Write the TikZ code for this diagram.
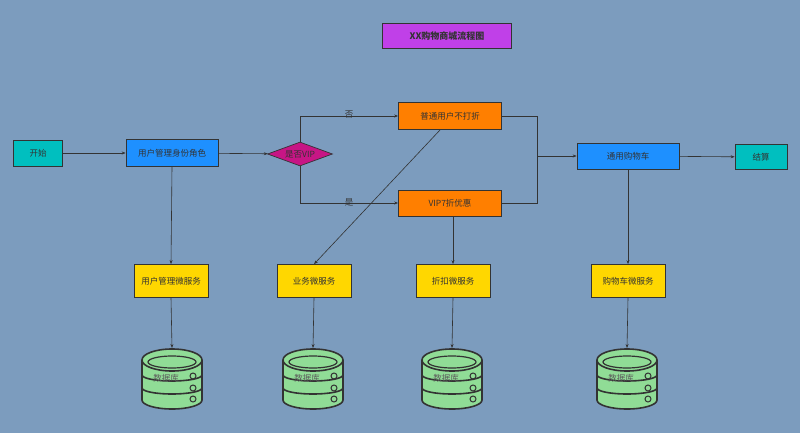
\documentclass[tikz,border=0pt]{standalone}
\usepackage{fontspec}
\setmainfont{Noto Sans CJK SC}
\usetikzlibrary{shapes.geometric,arrows.meta}
\definecolor{bg}{HTML}{7C9CBE}
\definecolor{ln}{HTML}{333333}
\definecolor{tealc}{HTML}{00BFBF}
\definecolor{bluec}{HTML}{1E90FF}
\definecolor{orc}{HTML}{FF7F00}
\definecolor{yel}{HTML}{FFD700}
\definecolor{mag}{HTML}{C71585}
\definecolor{pur}{HTML}{C040E8}
\definecolor{dbg}{HTML}{90DC96}
\begin{document}
\begin{tikzpicture}[x=1pt,y=-1pt,
  box/.style={draw=ln,line width=0.7pt,minimum height=26pt,inner sep=1pt,font=\fontsize{8.5}{9}\selectfont,text=ln},
  svc/.style={box,fill=yel,minimum width=74pt,minimum height=33pt},
  arr/.style={draw=ln,line width=0.6pt,-{Stealth[length=4pt,width=3pt]}},
  con/.style={draw=ln,line width=0.6pt},
  lab/.style={font=\fontsize{8.5}{9}\selectfont,text=ln}]
\fill[bg] (0,0) rectangle (800,433);
\useasboundingbox (0,0) rectangle (800,433);
\node[box,fill=pur,minimum width=129pt,minimum height=25pt,font=\bfseries\fontsize{9}{9}\selectfont] (title) at (447,36) {XX购物商城流程图};
\node[box,fill=tealc,minimum width=49pt] (start) at (38,153) {开始};
\node[box,fill=bluec,minimum width=92pt,minimum height=27pt] (role) at (172,153) {用户管理身份角色};
\node[diamond,draw=ln,line width=0.7pt,fill=mag,minimum width=65pt,minimum height=24pt,aspect=2.7,inner sep=0pt,font=\fontsize{8.5}{9}\selectfont,text=ln] (vip) at (300,154) {是否VIP};
\node[box,fill=orc,minimum width=103pt,minimum height=27pt] (norm) at (450,116) {普通用户不打折};
\node[box,fill=orc,minimum width=103pt] (vip7) at (450,203) {VIP7折优惠};
\node[box,fill=bluec,minimum width=102pt] (cart) at (628,156) {通用购物车};
\node[box,fill=tealc,minimum width=52pt,minimum height=25pt] (pay) at (761,157) {结算};
\node[svc] (s1) at (171,281) {用户管理微服务};
\node[svc] (s2) at (314,281) {业务微服务};
\node[svc] (s3) at (453,281) {折扣微服务};
\node[svc] (s4) at (628,281) {购物车微服务};
\coordinate (m) at (537,156);
\draw[arr] (start) -- (role);
\draw[arr] (role) -- (vip);
\draw[arr] (vip.north) |- node[lab,pos=0.75,yshift=1pt] {否} (norm.west);
\draw[arr] (vip.south) |- node[lab,pos=0.75,yshift=1pt] {是} (vip7.west);
\draw[con] (norm.east) -| (m);
\draw[con] (vip7.east) -| (m);
\draw[arr] (m) -- (cart.west);
\draw[arr] (cart) -- (pay);
\draw[arr] (role.south) -- (s1.north);
\draw[arr] (norm.south west) ++(42,0) coordinate (nd) (nd) -- (s2.north);
\draw[arr] (vip7.south) ++(3,0) coordinate (vd) (vd) -- (s3.north -| vd);
\draw[arr] (cart.south) -- (s4.north);
\foreach \x/\s/\n in {172/s1/d1,313/s2/d2,452/s3/d3,627/s4/d4}{
  \begin{scope}[shift={(\x,0)},line width=1.6pt,draw=ln]
    \draw[fill=dbg] (-30,360) -- (-30,400) arc[start angle=180,end angle=0,x radius=30,y radius=9] -- (30,360);
    \draw[fill=dbg] (0,360) ellipse[x radius=30,y radius=11];
    \draw[line width=1.2pt] (0,362) ellipse[x radius=24,y radius=6];
    \draw (-30,375) arc[start angle=180,end angle=0,x radius=30,y radius=6];
    \draw (-30,388) arc[start angle=180,end angle=0,x radius=30,y radius=6];
    \foreach \yy in {376,388,399}{\draw[line width=1pt] (21,\yy) circle[radius=3];}
    \node[lab,text=ln!80] (\n) at (-6,378) {数据库};
  \end{scope}
  \draw[arr] (\s.south) -- (\x,348);
}
\end{tikzpicture}
\end{document}
